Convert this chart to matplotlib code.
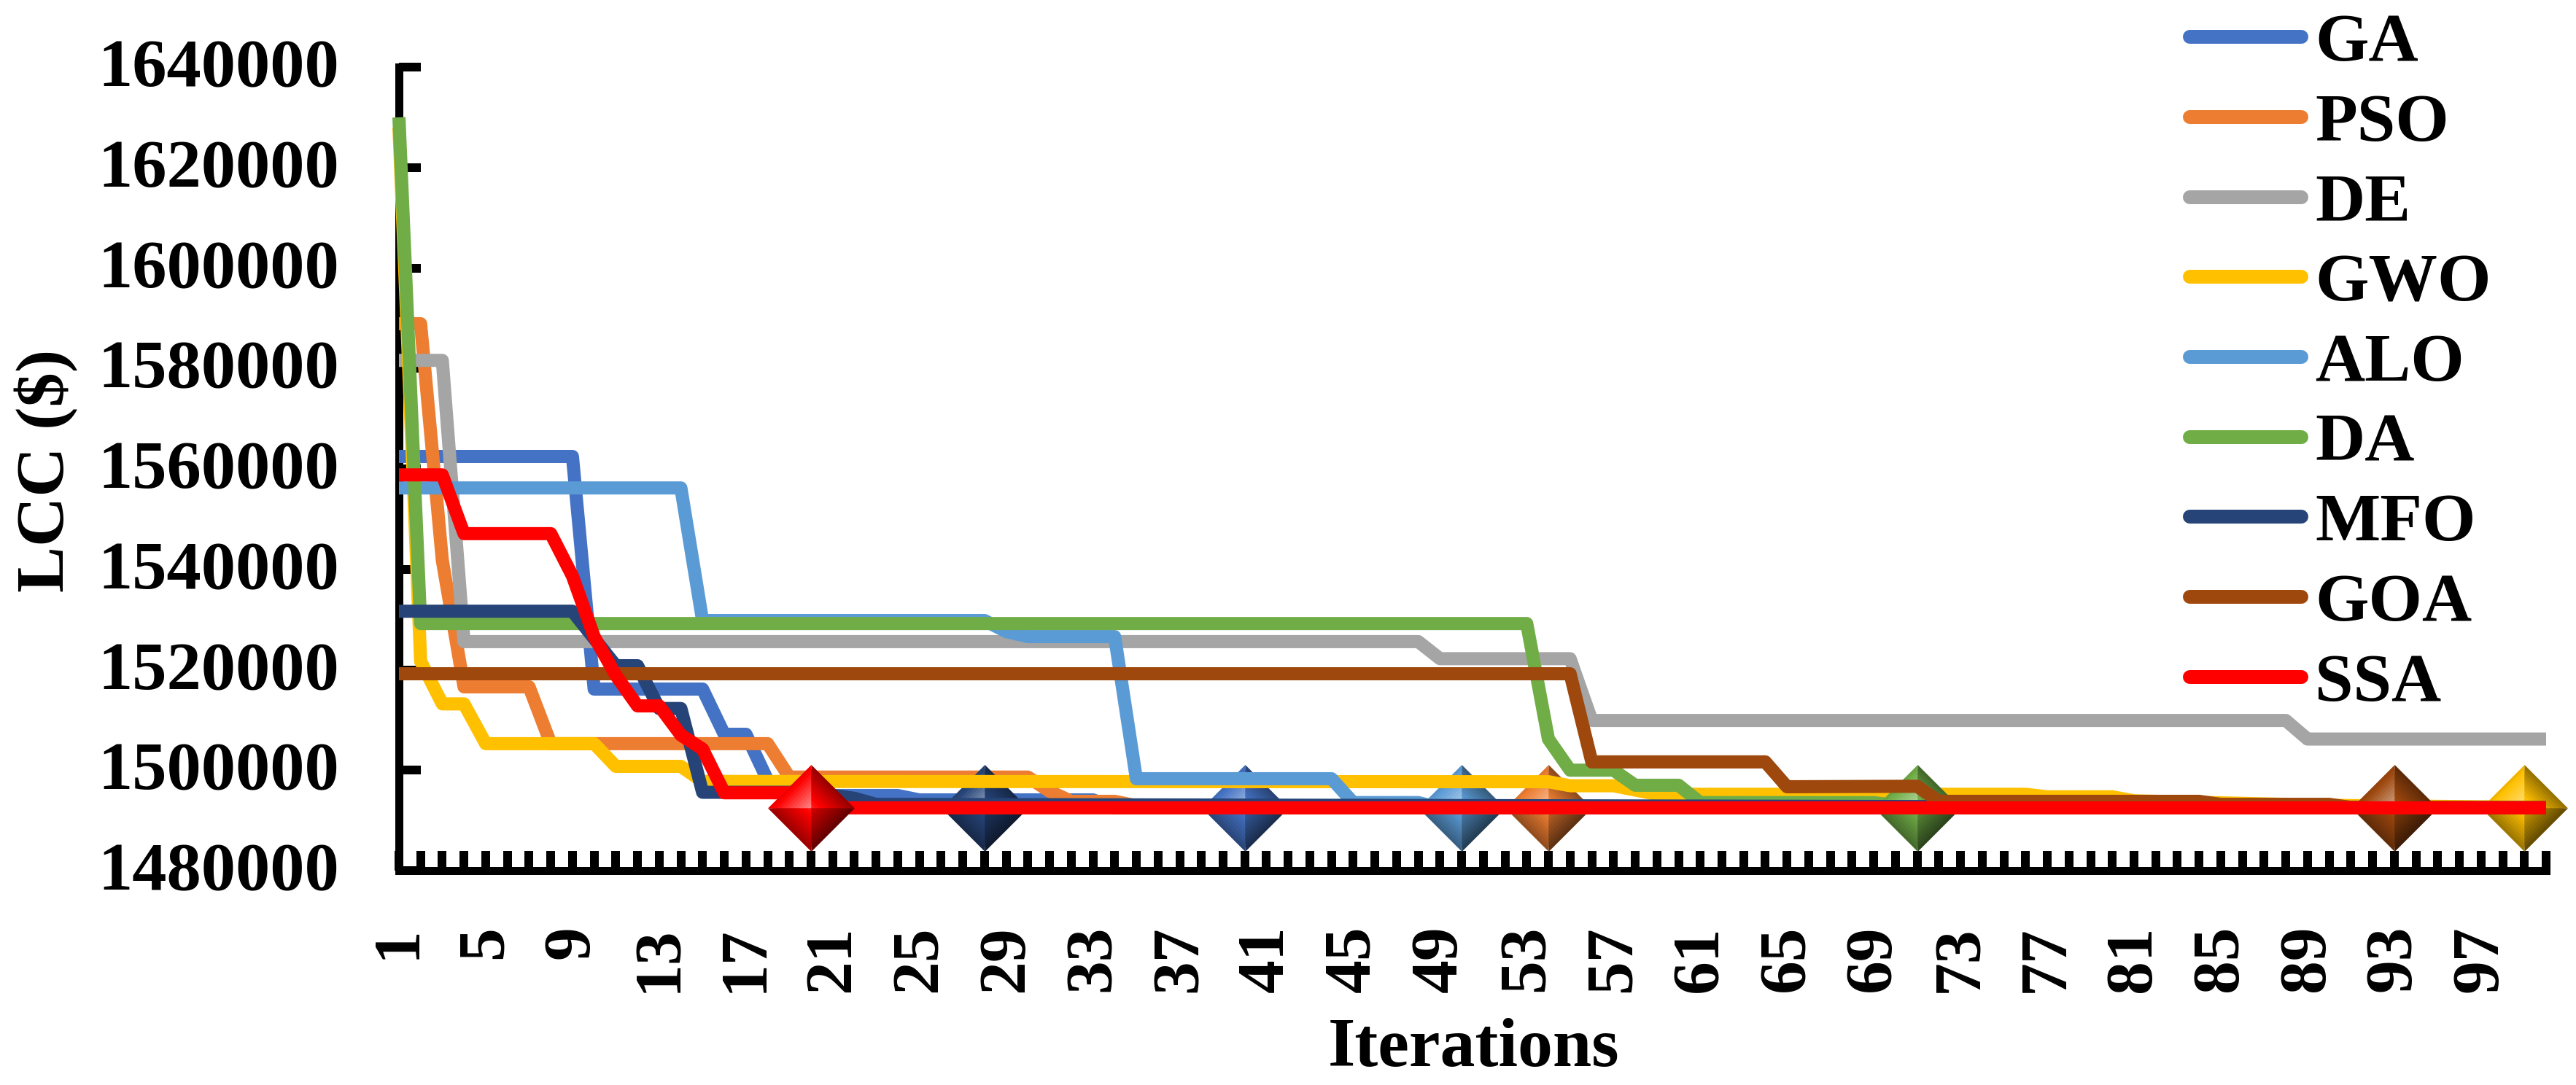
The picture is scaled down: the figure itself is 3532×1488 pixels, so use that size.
import matplotlib
matplotlib.use("Agg")
import matplotlib.pyplot as plt
from matplotlib.colors import to_rgb
from matplotlib.path import Path
from matplotlib.transforms import ScaledTranslation

plt.rcParams['font.family'] = ['Liberation Serif', 'DejaVu Serif']
plt.rcParams['font.weight'] = 'bold'

W, H, DPI = 3532, 1488, 100
PX = 72 / DPI

# Each series: iterations where the curve changes, and its LCC value there
GA_ITER = [1, 9, 10, 15, 16, 17, 18, 19, 24, 25, 33, 34, 100]
GA_LCC = [1562470, 1562470, 1516150, 1516150, 1507150, 1507150, 1498000, 1494950, 1494950, 1494080, 1494080, 1492500, 1492500]
PSO_ITER = [1, 2, 3, 4, 7, 8, 18, 19, 30, 31, 32, 34, 35, 53, 54, 100]
PSO_LCC = [1588900, 1588900, 1541800, 1516600, 1516600, 1505280, 1505280, 1498630, 1498630, 1495800, 1493800, 1493800, 1492920, 1492920, 1492500, 1492500]
DE_ITER = [1, 3, 4, 48, 49, 55, 56, 88, 89, 100]
DE_LCC = [1581600, 1581600, 1525600, 1525600, 1522200, 1522200, 1509900, 1509900, 1506200, 1506200]
GWO_ITER = [1, 2, 3, 4, 5, 10, 11, 14, 15, 54, 55, 57, 59, 76, 77, 80, 81, 90, 100]
GWO_LCC = [1628000, 1521700, 1513200, 1513200, 1505280, 1505280, 1500760, 1500760, 1497760, 1497700, 1496900, 1496900, 1495200, 1495200, 1494700, 1494700, 1493900, 1493000, 1492600]
ALO_ITER = [1, 14, 15, 28, 29, 30, 34, 35, 44, 45, 48, 49, 100]
ALO_LCC = [1556200, 1556200, 1529800, 1529800, 1527600, 1526600, 1526600, 1498300, 1498300, 1493550, 1493550, 1492500, 1492500]
DA_ITER = [1, 2, 53, 54, 55, 57, 58, 60, 61, 69, 70, 100]
DA_LCC = [1630000, 1529200, 1529200, 1506200, 1500000, 1500000, 1497000, 1497000, 1493550, 1493550, 1493000, 1492500]
MFO_ITER = [1, 9, 11, 12, 13, 14, 15, 20, 21, 22, 23, 100]
MFO_LCC = [1531650, 1531650, 1520800, 1520800, 1512280, 1512280, 1495600, 1495600, 1495000, 1494400, 1493200, 1492500]
GOA_ITER = [1, 55, 56, 64, 65, 71, 72, 84, 85, 90, 91, 100]
GOA_LCC = [1519200, 1519200, 1501650, 1501650, 1496700, 1496800, 1493800, 1493800, 1493200, 1493200, 1492600, 1492600]
SSA_ITER = [1, 3, 4, 8, 9, 10, 11, 12, 13, 14, 15, 16, 19, 20, 100]
SSA_LCC = [1558800, 1558800, 1547100, 1547100, 1538660, 1526600, 1518900, 1512800, 1512800, 1507000, 1504200, 1495500, 1495500, 1492500, 1492500]

NAMES = ['GA', 'PSO', 'DE', 'GWO', 'ALO', 'DA', 'MFO', 'GOA', 'SSA']
COLORS = ['#4472C4', '#ED7D31', '#A5A5A5', '#FFC000', '#5B9BD5', '#70AD47', '#264478', '#9E480E', '#FF0000']
ITERS = [GA_ITER, PSO_ITER, DE_ITER, GWO_ITER, ALO_ITER, DA_ITER, MFO_ITER, GOA_ITER, SSA_ITER]
VALUES = [GA_LCC, PSO_LCC, DE_LCC, GWO_LCC, ALO_LCC, DA_LCC, MFO_LCC, GOA_LCC, SSA_LCC]
LINE_Z = [11, 12, 13, 15, 16, 17, 18, 19, 21]

# Best-solution markers: iteration reached per series, and the common best LCC
MARKER_ITER = [40, 54, None, 99, 50, 71, 28, 93, 20]
MARKER_LCC = 1492500
MARKER_Z = [14, 14, None, 15.5, 14, 17.5, 14, 19.5, 22]

Y_TICKS = list(range(1480000, 1640001, 20000))
X_TICKS = list(range(1, 101))
X_LABELS = [str(i) if (i - 1) % 4 == 0 else '' for i in X_TICKS]

fig = plt.figure(figsize=(W / DPI, H / DPI), dpi=DPI, facecolor='white')
L, R, T, B = 547, 3491, 92, 1194
ax = fig.add_axes([L / W, 1 - B / H, (R - L) / W, (B - T) / H])
ax.set_xlim(1, 100)
ax.set_ylim(1480000, 1640000)

for n, c, xs, ys, z in zip(NAMES, COLORS, ITERS, VALUES, LINE_Z):
    ax.plot(xs, ys, color=c, lw=18 * PX, label=n, zorder=z, clip_on=False,
            solid_joinstyle='round', solid_capstyle='butt')


def facet(sx, sy):
    return Path([(0, 0), (0, sy), (sx, 0), (0, 0)], closed=True)


def mix(a, b, t):
    return tuple(a[i] * (1 - t) + b[i] * t for i in range(3))


def shade(rgb, f):
    if f <= 1:
        return tuple(v * f for v in rgb)
    return mix(rgb, (1, 1, 1), f - 1)


# (facet signs, outer shade, inner shade)
FACETS = [((-1, 1), 0.95, 1.5), ((1, 1), 0.6, 1.1),
          ((-1, -1), 0.62, 1.05), ((1, -1), 0.4, 0.8)]
LAYERS = 10
for c, it, z in zip(COLORS, MARKER_ITER, MARKER_Z):
    if it is None:
        continue
    rgb = to_rgb(c)
    for (sx, sy), f0, f1 in FACETS:
        for k in range(LAYERS):
            t = k / (LAYERS - 1)
            ax.plot([it], [MARKER_LCC], linestyle='none', marker=facet(sx, sy),
                    markersize=119 * PX * (1 - 0.9 * t), markeredgewidth=0,
                    color=shade(rgb, f0 * (1 - t) + f1 * t),
                    zorder=z + 0.01 * k, clip_on=False)

for s in ('top', 'right'):
    ax.spines[s].set_visible(False)
for s in ('left', 'bottom'):
    ax.spines[s].set_linewidth(11 * PX)

ax.set_xticks(X_TICKS)
ax.set_xticklabels(X_LABELS, rotation=90, fontsize=66, fontweight='bold', va='top', ha='center')
ax.set_yticks(Y_TICKS)
ax.set_yticklabels([str(v) for v in Y_TICKS], fontsize=68, fontweight='bold')
ax.tick_params(axis='x', direction='in', length=27 * PX, width=12 * PX, pad=75 * PX)
ax.tick_params(axis='y', direction='in', length=30 * PX, width=12 * PX, pad=82 * PX)
up = ScaledTranslation(0, 6 / DPI, fig.dpi_scale_trans)
for lab in ax.get_yticklabels():
    lab.set_transform(lab.get_transform() + up)

ax.set_xlabel('Iterations', fontsize=69, fontweight='bold', va='center', ha='center')
ax.xaxis.set_label_coords(0.5004, -0.2225)
ax.set_ylabel('LCC ($)', fontsize=68, fontweight='bold', va='center', ha='center', rotation=90)
ax.yaxis.set_label_coords(-0.1644, 0.498)

leg = fig.legend(*ax.get_legend_handles_labels(), loc='upper left',
                 bbox_to_anchor=(3002 / W, 1 - 17 / H), frameon=False,
                 fontsize=68, borderpad=0, borderaxespad=0,
                 handlelength=1.62, handletextpad=0.2, labelspacing=0.25)
for h in leg.get_lines():
    h.set_solid_capstyle('round')
    h.set_linewidth(19 * PX)

fig.savefig('out.png', dpi=DPI, facecolor='white')
